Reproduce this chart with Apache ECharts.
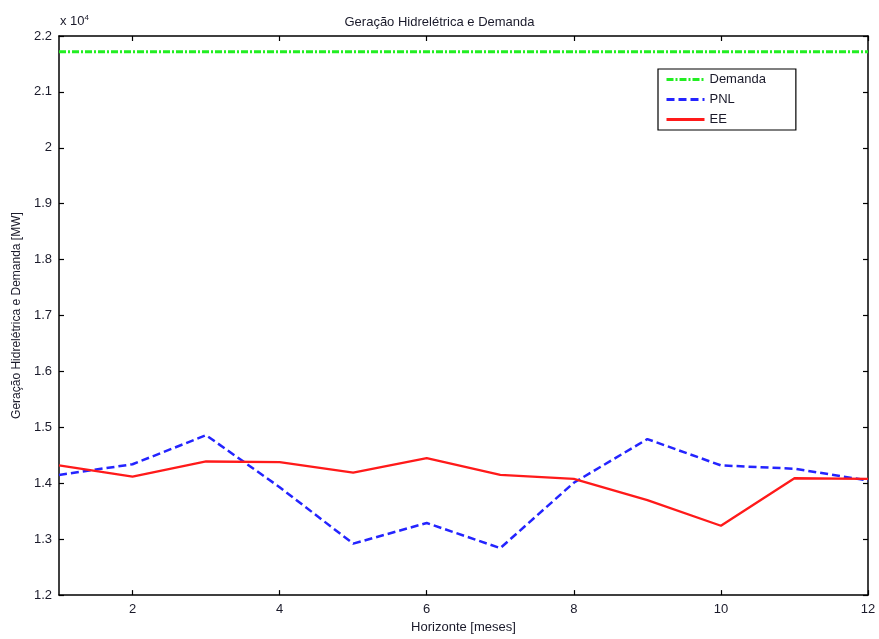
<!DOCTYPE html>
<html>
<head>
<meta charset="utf-8">
<script src="https://cdn.jsdelivr.net/npm/echarts@6/dist/echarts.min.js"></script>
<style>html,body{margin:0;padding:0;background:#fff;}#c{width:879px;height:639px;}</style>
</head>
<body>
<div id="c"></div>
<script>
var months = [1,2,3,4,5,6,7,8,9,10,11,12];
var demanda = [21720,21720,21720,21720,21720,21720,21720,21720,21720,21720,21720,21720];
var pnl = [14150,14340,14860,13930,12920,13290,12840,14010,14790,14320,14260,14050];
var ee = [14320,14120,14390,14380,14190,14450,14150,14080,13700,13240,14090,14080];
var xTicks = [2,4,6,8,10,12];
var yTicks = [12000,13000,14000,15000,16000,17000,18000,19000,20000,21000,22000];

function pairs(arr){ return months.map(function(m,i){ return [m, arr[i]]; }); }
var font = 'Liberation Sans, Arial, sans-serif';
var txt = '#1a1a2a';

var chart = echarts.init(document.getElementById('c'), null, {renderer:'canvas'});
chart.setOption({
  backgroundColor:'#fff',
  animation:false,
  title:{text:'Geração Hidrelétrica e Demanda', left:'center', top:11, textStyle:{fontFamily:font,fontSize:13,fontWeight:'normal',color:txt}},
  grid:{left:59, right:11, top:36, bottom:38, containLabel:false},
  legend:{orient:'vertical', left:658, top:69, width:142, height:61, backgroundColor:'#fff', borderColor:'#000', borderWidth:1.2,
    padding:[4,30,4,7], itemWidth:38, itemHeight:12, itemGap:7,
    itemStyle:{opacity:0, borderWidth:0},
    lineStyle:{width:3},
    textStyle:{fontFamily:font,fontSize:13,color:txt},
    data:['Demanda','PNL','EE']},
  graphic:[{type:'text', left:60, top:14, style:{text:'x 10{s|4}', rich:{s:{fontSize:8, verticalAlign:'top', padding:[0,0,6,0], fontFamily:font, fill:txt}}, font:'13px '+font, fill:txt}}],
  xAxis:[
    {type:'value', min:1, max:12, position:'bottom',
     name:'Horizonte [meses]', nameLocation:'middle', nameGap:23, nameTextStyle:{fontFamily:font,fontSize:13,color:txt},
     axisLine:{show:true,onZero:false,lineStyle:{color:'#000',width:1.5}},
     axisTick:{show:true,inside:true,length:5,customValues:xTicks,lineStyle:{color:'#000',width:1.2}},
     axisLabel:{show:true,customValues:xTicks,fontFamily:font,fontSize:13,color:txt,margin:8},
     splitLine:{show:false}},
    {type:'value', min:1, max:12, position:'top',
     axisLine:{show:true,onZero:false,lineStyle:{color:'#000',width:1.5}},
     axisTick:{show:true,inside:true,length:5,customValues:xTicks,lineStyle:{color:'#000',width:1.2}},
     axisLabel:{show:false}, splitLine:{show:false}}
  ],
  yAxis:[
    {type:'value', min:12000, max:22000, interval:1000, position:'left',
     name:'Geração Hidrelétrica e Demanda [MW]', nameLocation:'middle', nameGap:35, nameRotate:90,
     nameTextStyle:{fontFamily:font,fontSize:12,color:txt},
     axisLine:{show:true,onZero:false,lineStyle:{color:'#000',width:1.5}},
     axisTick:{show:true,inside:true,length:5,lineStyle:{color:'#000',width:1.2}},
     axisLabel:{fontFamily:font,fontSize:13,color:txt,margin:7,
       formatter:function(v){ return String(Math.round(v/1000)/10); }},
     splitLine:{show:false}},
    {type:'value', min:12000, max:22000, interval:1000, position:'right',
     axisLine:{show:true,onZero:false,lineStyle:{color:'#000',width:1.5}},
     axisTick:{show:true,inside:true,length:5,lineStyle:{color:'#000',width:1.2}},
     axisLabel:{show:false}, splitLine:{show:false}}
  ],
  series:[
    {name:'Demanda', type:'line', data:pairs(demanda), showSymbol:false, symbol:'none',
     lineStyle:{color:'#22ee22', width:3, type:[7,2,2,2]}, itemStyle:{color:'#22ee22'}},
    {name:'PNL', type:'line', data:pairs(pnl), showSymbol:false, symbol:'none',
     lineStyle:{color:'#2424ff', width:2.5, type:[8,4]}, itemStyle:{color:'#2424ff'}},
    {name:'EE', type:'line', data:pairs(ee), showSymbol:false, symbol:'none',
     lineStyle:{color:'#ff1a1a', width:2.3, type:'solid'}, itemStyle:{color:'#ff1a1a'}}
  ]
});
</script>
</body>
</html>
